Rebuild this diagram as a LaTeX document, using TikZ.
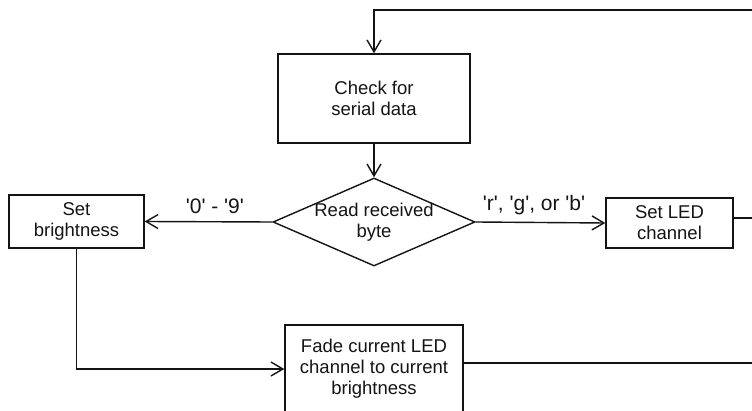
\documentclass[tikz,border=0pt]{standalone}
\usepackage{fontspec}
\setsansfont{Liberation Sans}
\usetikzlibrary{arrows.meta,shapes.geometric}
\definecolor{fcInk}{HTML}{141414}
\newcommand{\sq}{\textquotesingle}
\tikzset{
  fc line/.style={draw=fcInk, line width=1.4pt},
  fc arrow/.style={fc line, -{Straight Barb[length=12pt, width=14pt]}},
  fc box/.style={rectangle, draw=fcInk, line width=1.4pt, align=center, inner sep=0pt,
    font=\sffamily\fontsize{18.5}{21}\selectfont, text=fcInk},
  fc decision/.style={diamond, draw=fcInk, line width=1.4pt, inner sep=0pt,
    minimum width=202pt, minimum height=88pt},
  fc text/.style={font=\sffamily\fontsize{18.5}{21}\selectfont, text=fcInk, align=center},
  fc label/.style={font=\sffamily\fontsize{21}{24}\selectfont, text=fcInk},
}

\begin{document}
\begin{tikzpicture}[x=1pt, y=-1pt]
  % Frame of the picture: the right rail and the bottom of the last box are cut off
  \useasboundingbox (0,0) rectangle (752,411);
  \clip (0,0) rectangle (752,411);

  % Boxes and the decision
  \node[fc box, minimum width=192pt, minimum height=89pt] (check) at (374,98.5) {Check for\\serial data};
  \node[fc decision, label={[fc text]center:Read received\\byte}] (read) at (374,222) {};
  \node[fc box, minimum width=135pt, minimum height=53pt] (bright) at (76.5,221.5) {Set\\brightness};
  \node[fc box, minimum width=127pt, minimum height=50pt] (led) at (669.5,223) {Set LED\\channel};
  \node[fc box, minimum width=178pt, minimum height=88pt] (fade) at (374,369) {Fade current LED\\channel to current\\brightness};

  % Rail on the right, outside the visible part
  \coordinate (rail top) at (762,10);

  % Connectors
  \draw[fc arrow] (check.south) -- (read.north);
  \draw[fc arrow] (read.west) -- node[fc label, above=4pt, pos=0.45] {\sq0\sq{} - \sq9\sq} (bright.east);
  \draw[fc arrow] (read.east) -- node[fc label, above=4pt, pos=0.45] {\sq r\sq, \sq g\sq, or \sq b\sq} (led.west);
  \draw[fc arrow] (bright.south) |- (fade.west);
  \draw[fc line] ([yshift=5pt]led.east) -- ([yshift=5pt]led.east -| rail top);
  \draw[fc arrow] ([yshift=6pt]fade.east) -| (rail top) -| (check.north);
\end{tikzpicture}
\end{document}
